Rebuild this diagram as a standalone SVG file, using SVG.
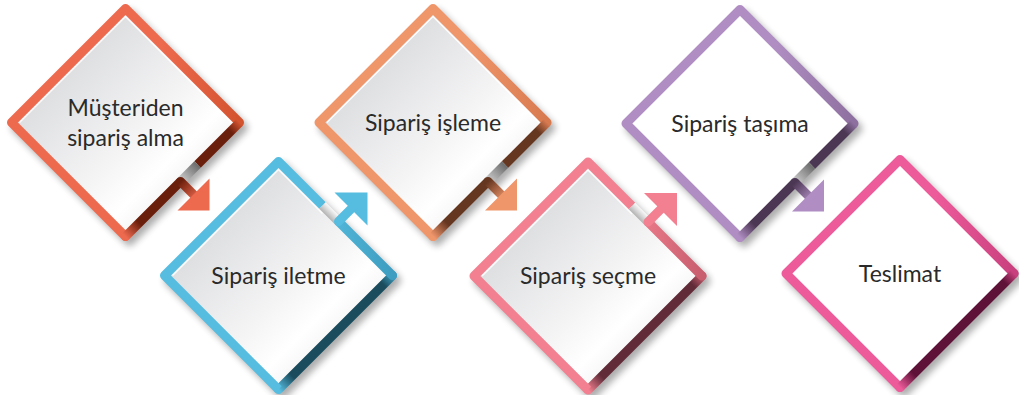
<svg xmlns="http://www.w3.org/2000/svg" width="1019" height="395" viewBox="0 0 1019 395">
<style>
.sh{fill:#000;stroke:#000;stroke-width:9;stroke-linejoin:round;opacity:.32}
.fg{fill:url(#fillG)}
.fw{fill:#fff}
.hl{fill:none;stroke:#fff;stroke-width:1.5;opacity:.9}
.e{fill:none;stroke-width:9;stroke-linejoin:round;stroke-linecap:round}
.b{stroke-linecap:butt}
.t{font-family:Lato,"Open Sans",sans-serif;font-size:23px;fill:#2a2a2a;text-anchor:middle}
</style>
<defs>
<filter id="blur" x="-20%" y="-20%" width="140%" height="140%"><feGaussianBlur stdDeviation="3.5"/></filter>
<linearGradient id="fillG" x1="0" y1="0" x2="1" y2="1">
<stop offset=".25" stop-color="#DDDEE0"/><stop offset=".55" stop-color="#F4F4F5"/><stop offset=".68" stop-color="#FFFFFF"/><stop offset=".78" stop-color="#F3F3F3"/>
</linearGradient>
<linearGradient id="gapT" gradientUnits="userSpaceOnUse" x1="72" y1="42" x2="55" y2="59"><stop offset="0" stop-color="#6b6b6b"/><stop offset="1" stop-color="#cfcfcf"/></linearGradient>
<linearGradient id="gapB" gradientUnits="userSpaceOnUse" x1="49" y1="-59" x2="55" y2="-65"><stop offset="0" stop-color="#b5b5b5"/><stop offset="1" stop-color="#f7f7f7"/></linearGradient>
<!-- D1 -->
<linearGradient id="tr1" gradientUnits="userSpaceOnUse" x1="35" y1="0" x2="114" y2="0"><stop offset="0" stop-color="#EE6A4F"/><stop offset="1" stop-color="#D4532F"/></linearGradient>
<linearGradient id="dk1" gradientUnits="userSpaceOnUse" x1="114" y1="0" x2="0" y2="114"><stop offset="0" stop-color="#D4532F"/><stop offset=".08" stop-color="#6A1E0C"/><stop offset=".88" stop-color="#6A1E0C"/><stop offset="1" stop-color="#EE6A4F"/></linearGradient>
<linearGradient id="sf1" gradientUnits="userSpaceOnUse" x1="55" y1="59" x2="72" y2="76"><stop offset="0" stop-color="#6A1E0C"/><stop offset="1" stop-color="#EE6A4F"/></linearGradient>
<!-- D2 -->
<linearGradient id="tr2" gradientUnits="userSpaceOnUse" x1="40" y1="0" x2="114" y2="0"><stop offset="0" stop-color="#56BDE0"/><stop offset="1" stop-color="#3E9DC0"/></linearGradient>
<linearGradient id="dk2" gradientUnits="userSpaceOnUse" x1="114" y1="0" x2="0" y2="114"><stop offset="0" stop-color="#3E9DC0"/><stop offset=".08" stop-color="#1A4C5E"/><stop offset=".88" stop-color="#1A4C5E"/><stop offset="1" stop-color="#56BDE0"/></linearGradient>
<!-- D3 -->
<linearGradient id="tr3" gradientUnits="userSpaceOnUse" x1="35" y1="0" x2="114" y2="0"><stop offset="0" stop-color="#F0966B"/><stop offset="1" stop-color="#D87A50"/></linearGradient>
<linearGradient id="dk3" gradientUnits="userSpaceOnUse" x1="114" y1="0" x2="0" y2="114"><stop offset="0" stop-color="#D87A50"/><stop offset=".08" stop-color="#653620"/><stop offset=".88" stop-color="#653620"/><stop offset="1" stop-color="#F0966B"/></linearGradient>
<linearGradient id="sf3" gradientUnits="userSpaceOnUse" x1="55" y1="59" x2="72" y2="76"><stop offset="0" stop-color="#653620"/><stop offset="1" stop-color="#F0966B"/></linearGradient>
<!-- D4 -->
<linearGradient id="tr4" gradientUnits="userSpaceOnUse" x1="40" y1="0" x2="114" y2="0"><stop offset="0" stop-color="#F28090"/><stop offset="1" stop-color="#C85E6E"/></linearGradient>
<linearGradient id="dk4" gradientUnits="userSpaceOnUse" x1="114" y1="0" x2="0" y2="114"><stop offset="0" stop-color="#C85E6E"/><stop offset=".08" stop-color="#612B38"/><stop offset=".88" stop-color="#612B38"/><stop offset="1" stop-color="#F28090"/></linearGradient>
<!-- D5 -->
<linearGradient id="tr5" gradientUnits="userSpaceOnUse" x1="35" y1="0" x2="114" y2="0"><stop offset="0" stop-color="#B08EC3"/><stop offset="1" stop-color="#8E70A0"/></linearGradient>
<linearGradient id="dk5" gradientUnits="userSpaceOnUse" x1="114" y1="0" x2="0" y2="114"><stop offset="0" stop-color="#8E70A0"/><stop offset=".08" stop-color="#4B3653"/><stop offset=".88" stop-color="#4B3653"/><stop offset="1" stop-color="#B08EC3"/></linearGradient>
<linearGradient id="sf5" gradientUnits="userSpaceOnUse" x1="55" y1="59" x2="72" y2="76"><stop offset="0" stop-color="#4B3653"/><stop offset="1" stop-color="#B08EC3"/></linearGradient>
<!-- D6 -->
<linearGradient id="tr6" gradientUnits="userSpaceOnUse" x1="35" y1="0" x2="114" y2="0"><stop offset="0" stop-color="#EE5B9B"/><stop offset="1" stop-color="#C9407E"/></linearGradient>
<linearGradient id="dk6" gradientUnits="userSpaceOnUse" x1="114" y1="0" x2="0" y2="114"><stop offset="0" stop-color="#C9407E"/><stop offset=".08" stop-color="#5E1238"/><stop offset=".88" stop-color="#5E1238"/><stop offset="1" stop-color="#EE5B9B"/></linearGradient>
<polygon id="dia" points="0,-114 114,0 0,114 -114,0"/>
</defs>

<g id="node1" transform="translate(125.5,122.5)">
<use href="#dia" class="sh" transform="translate(4,5)" filter="url(#blur)"/>
<use href="#dia" class="fg"/>
<path class="hl" d="M-106,0 L0,-106 L106,0"/>
<path class="e" stroke="url(#tr1)" d="M0,114 L-114,0 L0,-114 L114,0"/>
<path class="e b" stroke="url(#dk1)" d="M114,0 L72,42"/>
<path class="e" stroke="url(#dk1)" d="M55,59 L0,114"/>
<path class="e b" stroke="url(#gapT)" d="M72,42 L55,59"/>
<text class="t" x="0" y="-7">Müşteriden</text>
<text class="t" x="0" y="23">sipariş alma</text>
</g>

<g id="node2" transform="translate(278.5,275.5)">
<use href="#dia" class="sh" transform="translate(4,5)" filter="url(#blur)"/>
<use href="#dia" class="fg"/>
<path class="hl" d="M-106,0 L0,-106 L44,-62"/>
<path class="e" stroke="url(#dk2)" d="M114,0 L0,114"/>
<path class="e b" stroke="url(#tr2)" d="M44,-70 L0,-114 L-114,0 L0,114"/>
<path class="e" stroke="url(#tr2)" d="M60,-54 L114,0"/>
<path class="e b" stroke="url(#gapB)" d="M44,-70 L60,-54"/>
<text class="t" x="0" y="8">Sipariş iletme</text>
</g>

<g id="node3" transform="translate(433,122.5)">
<use href="#dia" class="sh" transform="translate(4,5)" filter="url(#blur)"/>
<use href="#dia" class="fg"/>
<path class="hl" d="M-106,0 L0,-106 L106,0"/>
<path class="e" stroke="url(#tr3)" d="M0,114 L-114,0 L0,-114 L114,0"/>
<path class="e b" stroke="url(#dk3)" d="M114,0 L72,42"/>
<path class="e" stroke="url(#dk3)" d="M55,59 L0,114"/>
<path class="e b" stroke="url(#gapT)" d="M72,42 L55,59"/>
<text class="t" x="0" y="8">Sipariş işleme</text>
</g>

<g id="node4" transform="translate(588,276)">
<use href="#dia" class="sh" transform="translate(4,5)" filter="url(#blur)"/>
<use href="#dia" class="fg"/>
<path class="hl" d="M-106,0 L0,-106 L44,-62"/>
<path class="e" stroke="url(#dk4)" d="M114,0 L0,114"/>
<path class="e b" stroke="url(#tr4)" d="M44,-70 L0,-114 L-114,0 L0,114"/>
<path class="e" stroke="url(#tr4)" d="M60,-54 L114,0"/>
<path class="e b" stroke="url(#gapB)" d="M44,-70 L60,-54"/>
<text class="t" x="0" y="8">Sipariş seçme</text>
</g>

<g id="node5" transform="translate(740,123.5)">
<use href="#dia" class="sh" transform="translate(4,5)" filter="url(#blur)"/>
<use href="#dia" class="fw"/>
<path class="e" stroke="url(#tr5)" d="M0,114 L-114,0 L0,-114 L114,0"/>
<path class="e b" stroke="url(#dk5)" d="M114,0 L72,42"/>
<path class="e" stroke="url(#dk5)" d="M55,59 L0,114"/>
<path class="e b" stroke="url(#gapT)" d="M72,42 L55,59"/>
<text class="t" x="0" y="8">Sipariş taşıma</text>
</g>

<g id="node6" transform="translate(900,273.5)">
<use href="#dia" class="sh" transform="translate(4,5)" filter="url(#blur)"/>
<use href="#dia" class="fw"/>
<path class="e" stroke="url(#tr6)" d="M0,114 L-114,0 L0,-114 L114,0"/>
<path class="e" stroke="url(#dk6)" d="M114,0 L0,114"/>
<text class="t" x="0" y="8">Teslimat</text>
</g>

<g id="connectors">
<g transform="translate(125.5,122.5)">
<path class="e" stroke="url(#sf1)" d="M55,59 L71,75"/>
<polygon fill="#EE6A4F" points="84,88 52,88 84,56"/>
</g>
<g transform="translate(278.5,275.5)">
<path class="e" stroke="#56BDE0" d="M60,-54 L75,-69"/>
<polygon fill="#56BDE0" points="89,-83 56,-83 89,-50"/>
</g>
<g transform="translate(433,122.5)">
<path class="e" stroke="url(#sf3)" d="M55,59 L71,75"/>
<polygon fill="#F0966B" points="84,88 52,88 84,56"/>
</g>
<g transform="translate(588,276)">
<path class="e" stroke="#F28090" d="M60,-54 L75,-69"/>
<polygon fill="#F28090" points="89,-83 56,-83 89,-50"/>
</g>
<g transform="translate(740,123.5)">
<path class="e" stroke="url(#sf5)" d="M55,59 L71,75"/>
<polygon fill="#B08EC3" points="84,88 52,88 84,56"/>
</g>
</g>
</svg>
